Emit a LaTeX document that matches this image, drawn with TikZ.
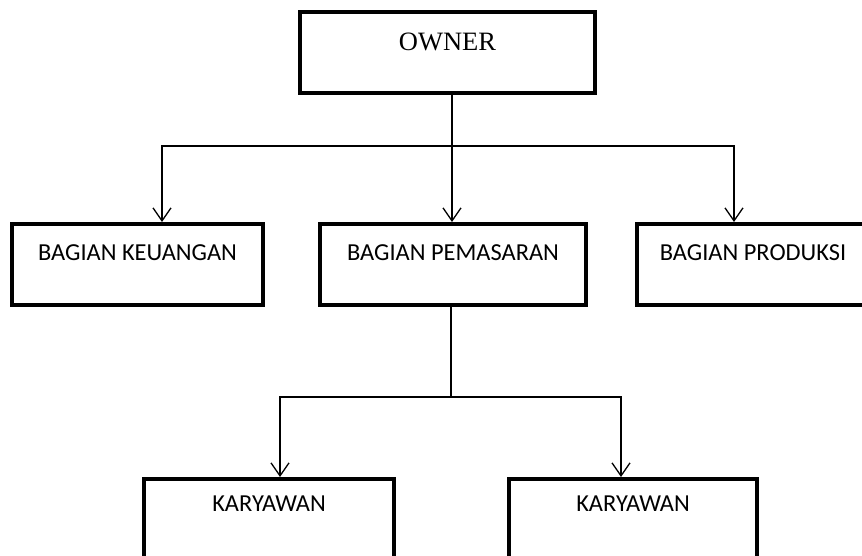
\documentclass[tikz,border=0pt]{standalone}
\usepackage{fontspec}
\setmainfont{Carlito}
\newfontfamily\ownerfont{Liberation Serif}
\usetikzlibrary{arrows.meta, positioning}

\begin{document}
\begin{tikzpicture}[
        x=1pt, y=-1pt,
        unit/.style={rectangle, draw, line width=4pt, minimum height=81pt, inner sep=0pt,
            text height=15.7pt, text depth=23pt, font=\fontsize{24.4}{28}\selectfont},
        top unit/.style={unit, text height=17.5pt, text depth=21pt, font=\ownerfont\fontsize{26.5}{30}\selectfont},
        low unit/.style={unit, text depth=31pt},
        link/.style={line width=1.3pt},
        arrow/.style={link, -{Straight Barb[length=13pt, width=18pt]}}
    ]
    \useasboundingbox (0,0) rectangle (862,556);

    % Units
    \node[top unit, minimum width=295pt] (owner) at (447.5,52.5) {OWNER};
    \node[unit, minimum width=251pt] (keuangan) at (137.5,264.5) {BAGIAN KEUANGAN};
    \node[unit, minimum width=266pt] (pemasaran) at (453,264.5) {BAGIAN PEMASARAN};
    \node[unit, minimum width=232pt] (produksi) at (753,264.5) {BAGIAN PRODUKSI};
    \node[low unit, minimum width=250pt] (karyawan1) at (269,519.5) {KARYAWAN};
    \node[low unit, minimum width=248pt] (karyawan2) at (633,519.5) {KARYAWAN};

    % Branch points
    \coordinate (split1) at (452,146);
    \coordinate (split2) at (451,397);

    % Owner to bagian
    \draw[link] (owner.south -| split1) -- (split1);
    \draw[arrow] (split1) -| ([xshift=152pt]keuangan.north west);
    \draw[arrow] (split1) -- (pemasaran.north -| split1);
    \draw[arrow] (split1) -| ([xshift=99pt]produksi.north west);

    % Pemasaran to karyawan
    \draw[link] (pemasaran.south -| split2) -- (split2);
    \draw[arrow] (split2) -| ([xshift=138pt]karyawan1.north west);
    \draw[arrow] (split2) -| ([xshift=114pt]karyawan2.north west);

\end{tikzpicture}
\end{document}
